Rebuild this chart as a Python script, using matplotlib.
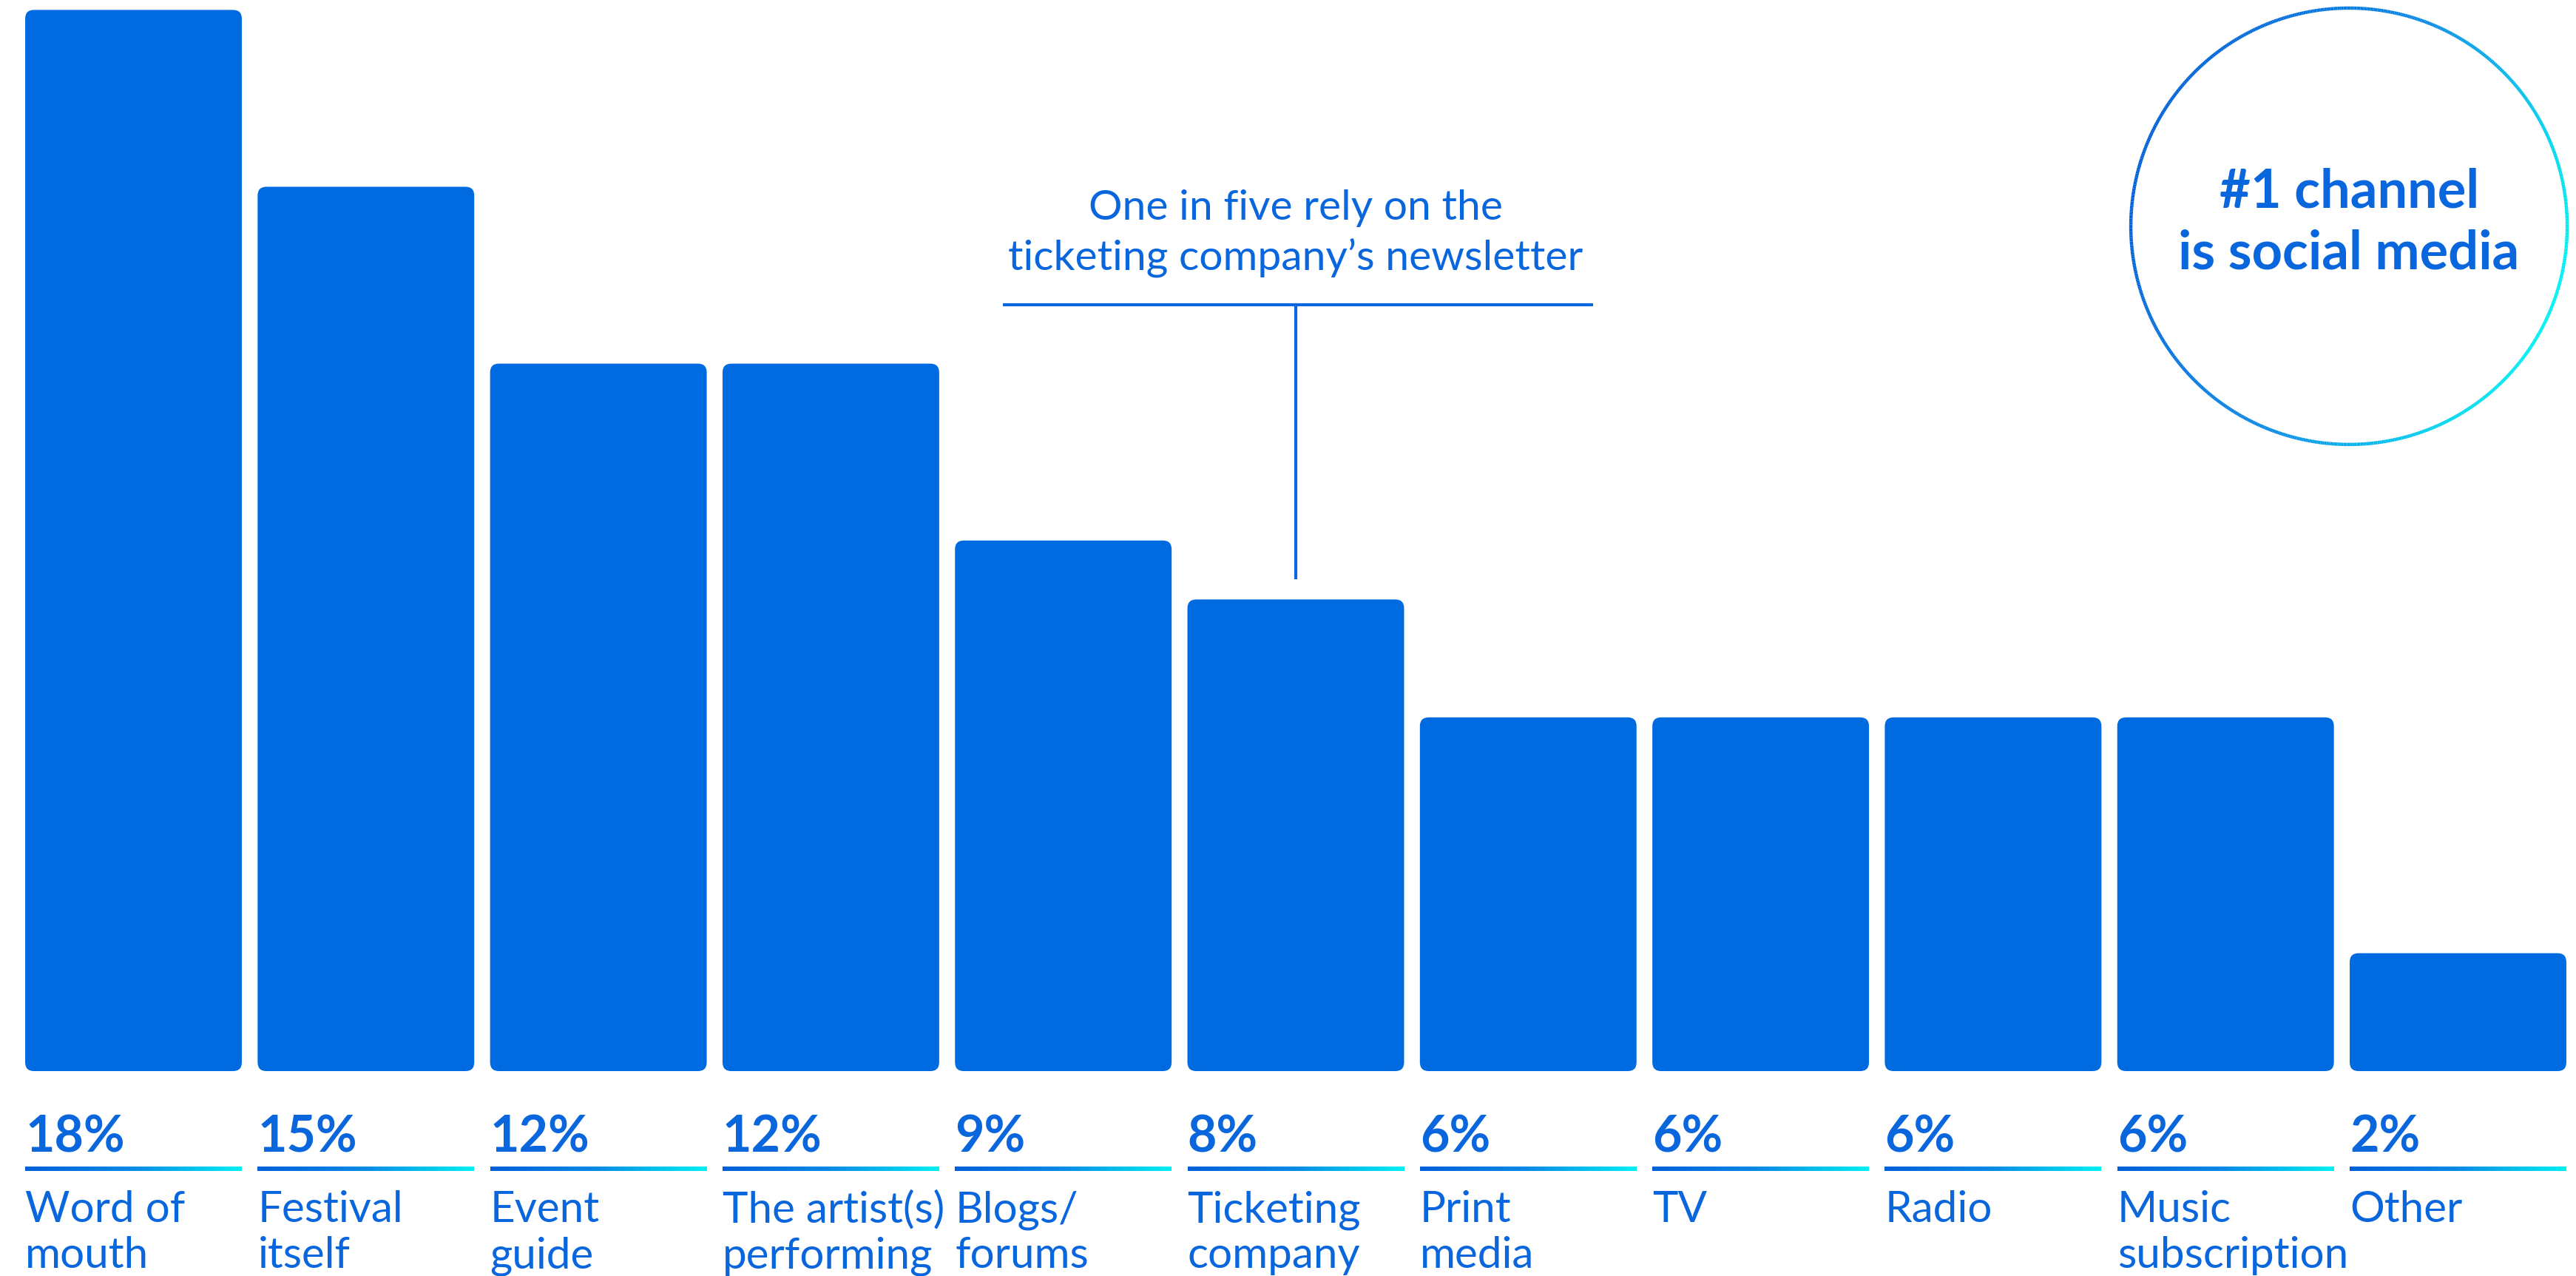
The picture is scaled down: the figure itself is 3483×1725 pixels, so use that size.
import numpy as np
import matplotlib.pyplot as plt
from matplotlib.patches import FancyBboxPatch
from matplotlib.collections import LineCollection
from matplotlib.colors import LinearSegmentedColormap

categories = ['Word of\nmouth', 'Festival\nitself', 'Event\nguide', 'The artist(s)\nperforming',
              'Blogs/\nforums', 'Ticketing\ncompany', 'Print\nmedia', 'TV', 'Radio',
              'Music\nsubscription', 'Other']
values = [18, 15, 12, 12, 9, 8, 6, 6, 6, 6, 2]
value_labels = ['18%', '15%', '12%', '12%', '9%', '8%', '6%', '6%', '6%', '6%', '2%']
note = 'One in five rely on the\nticketing company\u2019s newsletter'
note_bar = 5  # the bar the note points at
circle_text = '#1 channel\nis social media'

BLUE = '#006be0'
TEXT = '#0a66dc'
grad = LinearSegmentedColormap.from_list('grad', ['#0060d8', '#0a8ae6', '#00f0f2'])

plt.rcParams['font.family'] = ['Lato', 'DejaVu Sans']

fig = plt.figure(figsize=(34.83, 17.25), dpi=100)
ax = fig.add_axes([0, 0, 1, 1])
ax.axis('off')

width = 0.932
line_step = 0.78  # distance between label lines, in y units
for i, v in enumerate(values):
    left = i - width / 2
    bar = FancyBboxPatch((left, 0), width, v,
                         boxstyle='round,pad=0,rounding_size=0.038',
                         mutation_aspect=3.96, fc=BLUE, ec='none')
    ax.add_patch(bar)
    ax.text(left, -1.368, value_labels[i], fontsize=49, fontweight='bold',
            color=TEXT, ha='left', va='baseline')
    # gradient underline
    ax.imshow(np.linspace(0, 1, 256)[None, :], cmap=grad, aspect='auto',
              extent=[left, left + width, -1.69, -1.625], zorder=2)
    for k, line in enumerate(categories[i].split('\n')):
        ax.text(left, -2.56 - k * line_step, line, fontsize=42, color=TEXT,
                ha='left', va='baseline')

# callout for the ticketing bar
ax.plot([3.74, 6.28], [13.0, 13.0], color=TEXT, lw=3, solid_capstyle='butt')
ax.plot([note_bar, note_bar], [13.0, values[note_bar] + 0.34], color=TEXT, lw=3,
        solid_capstyle='butt')
ax.text(note_bar, 13.6, note, fontsize=41, color=TEXT, ha='center',
        va='baseline', linespacing=1.33)

# circle with gradient outline
cx, cy, rx, ry = 9.531, 14.33, 0.9386, 3.701
theta = np.linspace(0, 2 * np.pi, 721)
px = cx + rx * np.cos(theta)
py = cy + ry * np.sin(theta)
pts = np.column_stack([px, py]).reshape(-1, 1, 2)
segs = np.concatenate([pts[:-1], pts[1:]], axis=1)
t = 0.9 * np.cos(theta[:-1]) - 0.35 * np.sin(theta[:-1])
t = (t - t.min()) / (t.max() - t.min())
lc = LineCollection(segs, colors=grad(t), linewidths=3.2)
ax.add_collection(lc)
ax.text(cx, 13.61, circle_text, fontsize=52, fontweight='bold', color=TEXT,
        ha='center', va='baseline', linespacing=1.3)

ax.set_xlim(-0.5743, 10.5075)
ax.set_ylim(-3.4755, 18.168)

fig.savefig('out.png', dpi=100)
